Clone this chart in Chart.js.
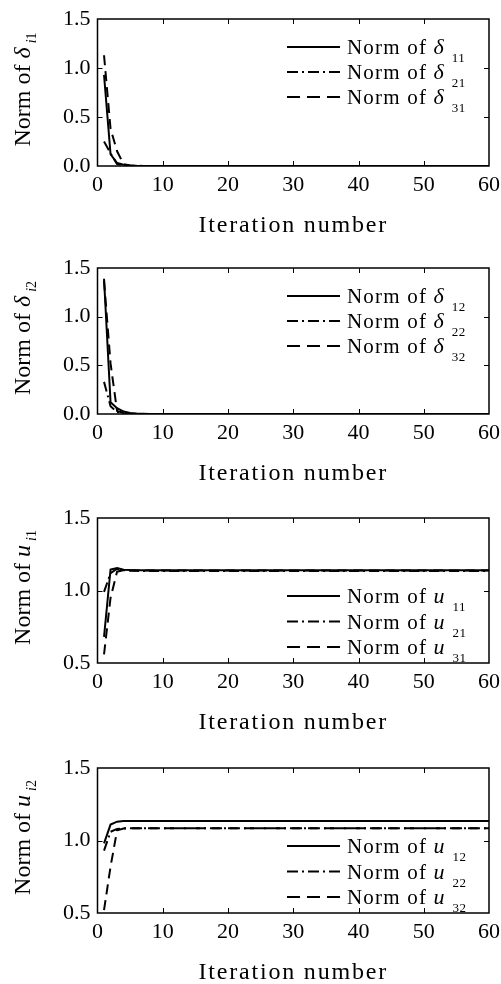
<!DOCTYPE html>
<html>
<head>
<meta charset="utf-8">
<script src="https://cdn.jsdelivr.net/npm/chart.js@4.4.1/dist/chart.umd.min.js"></script>
<style>
  body { margin: 0; background: #fff; width: 501px; height: 984px; overflow: hidden; position: relative; }
  .panel { position: absolute; left: 0; width: 501px; height: 235px; }
</style>
</head>
<body>
<div class="panel" style="top:0px"><canvas id="chart1"></canvas></div>
<div class="panel" style="top:249px"><canvas id="chart2"></canvas></div>
<div class="panel" style="top:499px"><canvas id="chart3"></canvas></div>
<div class="panel" style="top:749px"><canvas id="chart4"></canvas></div>
<script>
// iteration numbers (the curves are flat after iteration 10)
const iterations = [1, 2, 3, 4, 5, 6, 7, 8, 10, 20, 30, 40, 50, 60];

// norm of delta_i1
const delta11 = [0.93, 0.12, 0.03, 0.012, 0.005, 0.002, 0.001, 0, 0, 0, 0, 0, 0, 0];
const delta21 = [0.25, 0.13, 0.02, 0.006, 0.002, 0.001, 0, 0, 0, 0, 0, 0, 0, 0];
const delta31 = [1.13, 0.38, 0.15, 0.02, 0.006, 0.002, 0.001, 0, 0, 0, 0, 0, 0, 0];

// norm of delta_i2
const delta12 = [1.39, 0.12, 0.06, 0.025, 0.01, 0.004, 0.002, 0.001, 0, 0, 0, 0, 0, 0];
const delta22 = [0.33, 0.08, 0.02, 0.006, 0.002, 0.001, 0, 0, 0, 0, 0, 0, 0, 0];
const delta32 = [1.37, 0.52, 0.03, 0.01, 0.003, 0.001, 0, 0, 0, 0, 0, 0, 0, 0];

// norm of u_i1
const u11 = [0.68, 1.145, 1.155, 1.143, 1.141, 1.14, 1.14, 1.14, 1.14, 1.14, 1.14, 1.14, 1.14, 1.14];
const u21 = [0.99, 1.12, 1.15, 1.14, 1.137, 1.136, 1.135, 1.135, 1.135, 1.135, 1.135, 1.135, 1.135, 1.135];
const u31 = [0.56, 0.95, 1.13, 1.14, 1.139, 1.138, 1.138, 1.138, 1.138, 1.138, 1.138, 1.138, 1.138, 1.138];

// norm of u_i2
const u12 = [0.98, 1.11, 1.13, 1.134, 1.135, 1.135, 1.135, 1.135, 1.135, 1.135, 1.135, 1.135, 1.135, 1.135];
const u22 = [0.93, 1.06, 1.08, 1.084, 1.085, 1.085, 1.085, 1.085, 1.085, 1.085, 1.085, 1.085, 1.085, 1.085];
const u32 = [0.52, 0.82, 1.07, 1.082, 1.085, 1.085, 1.085, 1.085, 1.085, 1.085, 1.085, 1.085, 1.085, 1.085];

// tick labels
const xTicks = [0, 10, 20, 30, 40, 50, 60];
const yTicksDelta = [0, 0.5, 1.0, 1.5];
const yTicksU = [0.5, 1.0, 1.5];

const SERIF = '"Liberation Serif", "Times New Roman", serif';
const STYLES = [
    { dash: [], legendDash: [] },
    { dash: [10, 4, 2, 4], legendDash: [11, 4, 2, 4] },
    { dash: [10, 6], legendDash: [13, 7] }
];

/**
 * Desenha texto com letterSpacing e devolve a largura.
 */
function drawText(ctx, text, x, y, font, spacing) {
    ctx.font = font;
    ctx.letterSpacing = (spacing || 0) + 'px';
    ctx.fillText(text, x, y);
    const w = ctx.measureText(text).width;
    ctx.letterSpacing = '0px';
    return w;
}

function textWidth(ctx, text, font, spacing) {
    ctx.font = font;
    ctx.letterSpacing = (spacing || 0) + 'px';
    const w = ctx.measureText(text).width;
    ctx.letterSpacing = '0px';
    return w;
}

// moldura, ticks internos, títulos e legenda
const figurePlugin = {
    id: 'figure',
    afterDraw(chart, args, opts) {
        const { ctx, chartArea: a, scales: { x, y } } = chart;
        ctx.save();
        ctx.strokeStyle = '#000';
        ctx.fillStyle = '#000';
        ctx.setLineDash([]);

        // ticks apontando para dentro, nos quatro lados
        ctx.lineWidth = 1;
        ctx.beginPath();
        x.ticks.forEach(t => {
            const px = Math.round(x.getPixelForValue(t.value)) + 0.5;
            if (px <= a.left + 2 || px >= a.right - 2) return;
            ctx.moveTo(px, a.bottom); ctx.lineTo(px, a.bottom - 5);
            ctx.moveTo(px, a.top); ctx.lineTo(px, a.top + 5);
        });
        y.ticks.forEach(t => {
            const py = Math.round(y.getPixelForValue(t.value)) + 0.5;
            if (py <= a.top + 2 || py >= a.bottom - 2) return;
            ctx.moveTo(a.left, py); ctx.lineTo(a.left + 5, py);
            ctx.moveTo(a.right, py); ctx.lineTo(a.right - 5, py);
        });
        ctx.stroke();

        ctx.lineWidth = 1.5;
        ctx.strokeRect(a.left, a.top, a.right - a.left, a.bottom - a.top);

        // título do eixo x
        ctx.textAlign = 'left';
        ctx.textBaseline = 'alphabetic';
        const xt = 'Iteration number';
        const xtFont = '24px ' + SERIF;
        const xtw = textWidth(ctx, xt, xtFont, 1.8);
        drawText(ctx, xt, (a.left + a.right) / 2 - xtw / 2, a.bottom + 66, xtFont, 1.8);

        // título do eixo y (rotacionado, com subscrito)
        const mainFont = '24px ' + SERIF;
        const symFont = 'italic 24px ' + SERIF;
        const subItalic = 'italic 14px ' + SERIF;
        const subFont = '14px ' + SERIF;
        const parts = [
            { t: 'Norm of ', f: mainFont, dy: 0, gap: 0 },
            { t: opts.symbol, f: symFont, dy: 0, gap: 4 },
            { t: 'i', f: subItalic, dy: 6, gap: 0 },
            { t: opts.sub, f: subFont, dy: 6, gap: 0 }
        ];
        let total = 0;
        parts.forEach(p => { total += textWidth(ctx, p.t, p.f) + p.gap; });
        ctx.save();
        ctx.translate(30, (a.top + a.bottom) / 2 - 3);
        ctx.rotate(-Math.PI / 2);
        let cx = -total / 2;
        parts.forEach(p => {
            cx += drawText(ctx, p.t, cx, p.dy, p.f) + p.gap;
        });
        ctx.restore();

        // legenda
        const rows = opts.legendTop
            ? [a.top + 28, a.top + 53, a.top + 78]
            : [a.bottom - 67, a.bottom - 41.5, a.bottom - 16];
        const x0 = a.right - 202, x1 = a.right - 149, tx = a.right - 142;
        opts.legendSubs.forEach((sub, i) => {
            const ry = rows[i];
            ctx.lineWidth = 2;
            ctx.setLineDash(STYLES[i].legendDash);
            ctx.beginPath();
            ctx.moveTo(x0, ry); ctx.lineTo(x1, ry);
            ctx.stroke();
            ctx.setLineDash([]);
            const base = ry + 7;
            let cx2 = tx;
            cx2 += drawText(ctx, 'Norm of ', cx2, base, '21px ' + SERIF, 1.2);
            cx2 += drawText(ctx, opts.symbol, cx2, base, 'italic 22px ' + SERIF, 0) + 8;
            drawText(ctx, sub, cx2, base + 8, '13px ' + SERIF, 0.5);
        });
        ctx.restore();
    }
};

/**
 * Cria um painel com três séries.
 */
function makePanel(id, series, yTicks, symbol, sub, legendSubs, legendTop, plotH) {
    const H = 235, TOP = 19;
    new Chart(document.getElementById(id), {
        type: 'line',
        data: {
            datasets: series.map((vals, i) => ({
                data: iterations.map((it, k) => ({ x: it, y: vals[k] })),
                borderColor: '#000',
                borderWidth: 2,
                borderDash: STYLES[i].dash,
                pointRadius: 0,
                tension: 0,
                fill: false
            }))
        },
        options: {
            responsive: true,
            maintainAspectRatio: false,
            animation: false,
            devicePixelRatio: 1,
            layout: { padding: { top: TOP, right: 12, left: 0, bottom: 0 } },
            plugins: {
                legend: { display: false },
                tooltip: { enabled: false },
                figure: { symbol: symbol, sub: sub, legendSubs: legendSubs, legendTop: legendTop }
            },
            scales: {
                x: {
                    type: 'linear',
                    min: xTicks[0],
                    max: xTicks[xTicks.length - 1],
                    afterBuildTicks: s => { s.ticks = xTicks.map(v => ({ value: v })); },
                    afterFit: s => {
                        s.height = H - TOP - plotH;
                        s.paddingLeft = 0;
                        s.paddingRight = 0;
                    },
                    grid: { display: false, drawTicks: false },
                    border: { display: false },
                    ticks: {
                        color: '#000',
                        padding: 6,
                        maxRotation: 0,
                        font: { family: SERIF, size: 22 },
                        callback: v => String(v)
                    }
                },
                y: {
                    min: yTicks[0],
                    max: yTicks[yTicks.length - 1],
                    afterBuildTicks: s => { s.ticks = yTicks.map(v => ({ value: v })); },
                    afterFit: s => {
                        s.width = 97.5;
                        s.paddingTop = 0;
                        s.paddingBottom = 0;
                    },
                    grid: { display: false, drawTicks: false },
                    border: { display: false },
                    ticks: {
                        color: '#000',
                        padding: 7,
                        font: { family: SERIF, size: 22 },
                        callback: v => Number(v).toFixed(1)
                    }
                }
            }
        },
        plugins: [figurePlugin]
    });
}

document.addEventListener('DOMContentLoaded', function() {
    makePanel('chart1', [delta11, delta21, delta31], yTicksDelta, '\u03b4', '1', ['11', '21', '31'], true, 147);
    makePanel('chart2', [delta12, delta22, delta32], yTicksDelta, '\u03b4', '2', ['12', '22', '32'], true, 146);
    makePanel('chart3', [u11, u21, u31], yTicksU, 'u', '1', ['11', '21', '31'], false, 145);
    makePanel('chart4', [u12, u22, u32], yTicksU, 'u', '2', ['12', '22', '32'], false, 145);
});
</script>
</body>
</html>
